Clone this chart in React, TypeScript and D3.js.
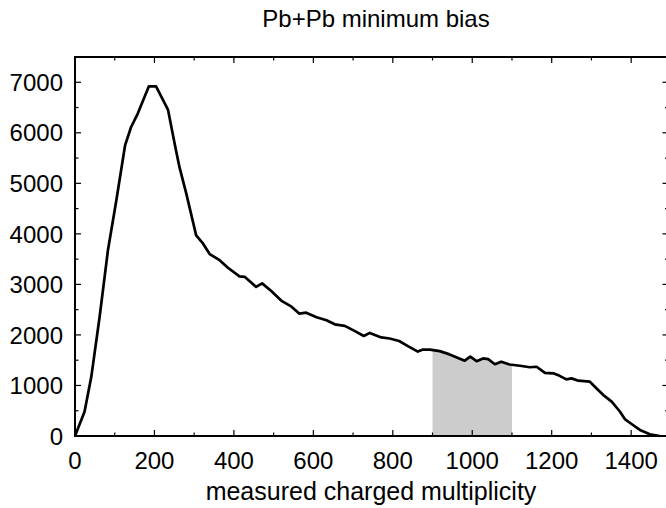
import React from "react";
import * as d3 from "d3";

const multiplicity = [0, 24, 41, 62, 83, 104, 126, 141, 158, 186, 204, 234, 251, 263, 280, 305, 322, 339, 364, 385, 414, 427, 456, 471, 494, 519, 545, 565, 582, 608, 633, 654, 679, 700, 727, 742, 771, 792, 816, 838, 863, 876, 893, 918, 943, 981, 995, 1011, 1027, 1040, 1057, 1073, 1094, 1120, 1145, 1162, 1183, 1204, 1220, 1237, 1250, 1267, 1296, 1313, 1330, 1351, 1372, 1384, 1401, 1422, 1447, 1472];
const counts = [0, 480, 1170, 2360, 3680, 4660, 5750, 6110, 6380, 6920, 6920, 6460, 5780, 5320, 4800, 3970, 3810, 3600, 3480, 3330, 3160, 3150, 2950, 3020, 2870, 2680, 2560, 2420, 2440, 2350, 2290, 2210, 2180, 2095, 1980, 2040, 1950, 1930, 1880, 1780, 1670, 1710, 1710, 1680, 1615, 1490, 1570, 1480, 1535, 1520, 1420, 1470, 1415, 1390, 1360, 1370, 1250, 1240, 1190, 1120, 1140, 1095, 1075, 940, 810, 680, 480, 335, 237, 120, 33, 0];
const shadedRange = [900, 1100];
const xTicks = [0, 200, 400, 600, 800, 1000, 1200, 1400];
const yTicks = [0, 1000, 2000, 3000, 4000, 5000, 6000, 7000];
const title = "Pb+Pb minimum bias";
const xLabel = "measured charged multiplicity";

export default function App() {
  const W = 666, H = 508;
  const left = 75, right = 668.5, top = 57, bottom = 436;
  const x = d3.scaleLinear().domain([0, 1494]).range([left, right]);
  const y = d3.scaleLinear().domain([0, 7500]).range([bottom, top]);
  const data = multiplicity.map((m, i) => [m, counts[i]] as [number, number]);
  const line = d3.line<[number, number]>().x(d => x(d[0])).y(d => y(d[1]));
  const area = d3.area<[number, number]>().x(d => x(d[0])).y0(y(0)).y1(d => y(d[1]));
  const xMinor = d3.range(0, 1500, 100).filter(v => !xTicks.includes(v));
  const yMinor = d3.range(500, 7500, 1000);
  const font = "'Liberation Sans', Arial, Helvetica, sans-serif";
  return (
    <svg width={W} height={H} style={{ position: "absolute", left: 0, top: 0 }}>
      <rect width={W} height={H} fill="#fff" />
      <defs>
        <clipPath id="shade">
          <rect x={x(shadedRange[0])} y={top} width={x(shadedRange[1]) - x(shadedRange[0])} height={bottom - top} />
        </clipPath>
      </defs>
      <path d={area(data) || ""} fill="#cccccc" clipPath="url(#shade)" />
      {xTicks.map(v => (
        <g key={"xt" + v}>
          <line x1={x(v)} x2={x(v)} y1={bottom} y2={bottom - 6} stroke="#000" strokeWidth={1.2} />
          <line x1={x(v)} x2={x(v)} y1={top} y2={top + 6} stroke="#000" strokeWidth={1.2} />
          <text x={x(v)} y={469} textAnchor="middle" fontFamily={font} fontSize={24} fill="#000">{v}</text>
        </g>
      ))}
      {xMinor.map(v => (
        <g key={"xm" + v}>
          <line x1={x(v)} x2={x(v)} y1={bottom} y2={bottom - 3.5} stroke="#000" strokeWidth={1.2} />
          <line x1={x(v)} x2={x(v)} y1={top} y2={top + 3.5} stroke="#000" strokeWidth={1.2} />
        </g>
      ))}
      {yTicks.map(v => (
        <g key={"yt" + v}>
          <line x1={left} x2={left + 6} y1={y(v)} y2={y(v)} stroke="#000" strokeWidth={1.2} />
          <line x1={right} x2={right - 6} y1={y(v)} y2={y(v)} stroke="#000" strokeWidth={1.2} />
          <text x={left - 12} y={y(v)} dy="0.36em" textAnchor="end" fontFamily={font} fontSize={24} fill="#000">{v}</text>
        </g>
      ))}
      {yMinor.map(v => (
        <g key={"ym" + v}>
          <line x1={left} x2={left + 3.5} y1={y(v)} y2={y(v)} stroke="#000" strokeWidth={1.2} />
          <line x1={right} x2={right - 3.5} y1={y(v)} y2={y(v)} stroke="#000" strokeWidth={1.2} />
        </g>
      ))}
      <rect x={left} y={top} width={right - left} height={bottom - top} fill="none" stroke="#000" strokeWidth={2} />
      <path d={line(data) || ""} fill="none" stroke="#000" strokeWidth={2.7} strokeLinejoin="round" />
      <text x={(left + 667) / 2 + 5} y={27} textAnchor="middle" fontFamily={font} fontSize={24} fill="#000">{title}</text>
      <text x={(left + 667) / 2} y={500} textAnchor="middle" fontFamily={font} fontSize={25} fill="#000">{xLabel}</text>
    </svg>
  );
}
